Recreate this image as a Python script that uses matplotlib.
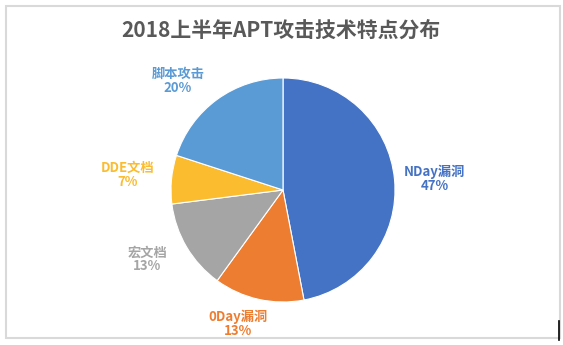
import numpy as np
import matplotlib

matplotlib.use("Agg")
import matplotlib.pyplot as plt
from matplotlib.lines import Line2D
from matplotlib.patches import Rectangle

plt.rcParams["font.family"] = ["Noto Sans CJK SC", "DejaVu Sans"]

title = "2018上半年APT攻击技术特点分布"
categories = ["NDay漏洞", "0Day漏洞", "宏文档", "DDE文档", "脚本攻击"]
shares = [47, 13, 13, 7, 20]
colors = ["#4472C4", "#ED7D31", "#A5A5A5", "#FBBC2F", "#5B9BD5"]

# label placement relative to each wedge (distance in radii, angle nudge in degrees)
label_dist = [1.36, 1.26, 1.36, 1.39, 1.35]
label_nudge = [-1, -6, -3.5, 0, 8]

W, H = 563, 345
fig = plt.figure(figsize=(W / 100, H / 100), dpi=100)

# light frame around the chart area
fig.add_artist(Rectangle((6 / W, 7 / H), 554 / W, 332 / H, transform=fig.transFigure,
                         facecolor="none", edgecolor="#D9D9D9", linewidth=1.5))
fig.add_artist(Line2D([559 / W, 559 / W], [5 / H, 24 / H], transform=fig.transFigure,
                      color="black", linewidth=1.2))

fig.text(281 / W, 1 - 30 / H, title, ha="center", va="center", fontsize=15,
         fontweight="bold", color="#595959")

cx, cy, r = 283, 190, 112
ax = fig.add_axes([(cx - r) / W, (H - cy - r) / H, 2 * r / W, 2 * r / H])
wedges, _ = ax.pie(shares, colors=colors, startangle=90, counterclock=False, radius=1,
                   wedgeprops=dict(edgecolor="white", linewidth=0.8))
ax.set_xlim(-1, 1)
ax.set_ylim(-1, 1)
ax.set_aspect("equal")
ax.axis("off")

for w, name, val, col, d, nd in zip(wedges, categories, shares, colors, label_dist, label_nudge):
    theta = np.deg2rad((w.theta1 + w.theta2) / 2 + nd)
    ax.text(d * np.cos(theta), d * np.sin(theta), f"{name}\n{val}%", ha="center",
            va="center", fontsize=9.5, fontweight="bold", color=col, linespacing=1.0)

fig.savefig("out.png", dpi=100)
